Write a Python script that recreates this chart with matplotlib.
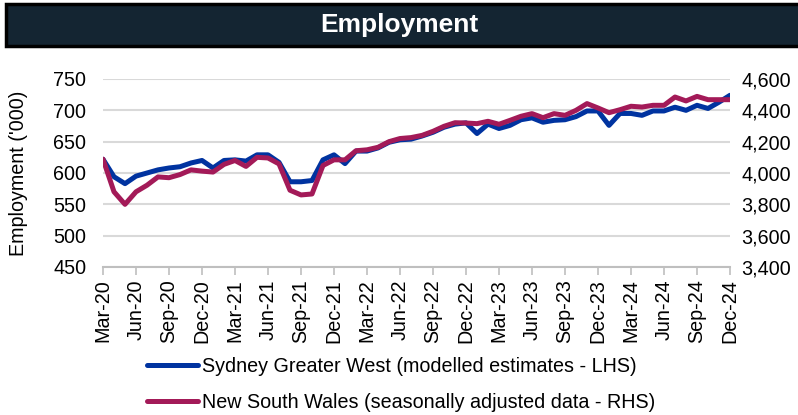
import matplotlib
matplotlib.use("Agg")
import matplotlib.pyplot as plt
from matplotlib.patches import Rectangle
from matplotlib.ticker import FuncFormatter, MultipleLocator

plt.rcParams['font.family'] = ['Liberation Sans', 'DejaVu Sans']

months = ["Mar-20", "Apr-20", "May-20", "Jun-20", "Jul-20", "Aug-20", "Sep-20", "Oct-20", "Nov-20", "Dec-20",
          "Jan-21", "Feb-21", "Mar-21", "Apr-21", "May-21", "Jun-21", "Jul-21", "Aug-21", "Sep-21", "Oct-21",
          "Nov-21", "Dec-21", "Jan-22", "Feb-22", "Mar-22", "Apr-22", "May-22", "Jun-22", "Jul-22", "Aug-22",
          "Sep-22", "Oct-22", "Nov-22", "Dec-22", "Jan-23", "Feb-23", "Mar-23", "Apr-23", "May-23", "Jun-23",
          "Jul-23", "Aug-23", "Sep-23", "Oct-23", "Nov-23", "Dec-23", "Jan-24", "Feb-24", "Mar-24", "Apr-24",
          "May-24", "Jun-24", "Jul-24", "Aug-24", "Sep-24", "Oct-24", "Nov-24", "Dec-24"]

sydney_gw = [622, 594, 583, 595, 600, 605, 608, 610, 616, 620,
             608, 620, 621, 619, 629, 629, 617, 586, 586, 588,
             621, 629, 615, 635, 635, 640, 649, 653, 654, 659,
             665, 673, 678, 680, 663, 678, 671, 676, 685, 688,
             681, 684, 685, 690, 699, 699, 676, 695, 695, 692,
             699, 699, 705, 700, 708, 703, 713, 724]

nsw = [4088, 3880, 3800, 3880, 3922, 3975, 3970, 3990, 4020, 4012,
       4006, 4055, 4080, 4042, 4100, 4096, 4058, 3890, 3860, 3866,
       4048, 4084, 4084, 4142, 4148, 4164, 4200, 4220, 4226, 4240,
       4266, 4298, 4321, 4319, 4315, 4330, 4311, 4336, 4362, 4379,
       4353, 4379, 4368, 4400, 4443, 4415, 4385, 4404, 4426, 4421,
       4432, 4432, 4485, 4460, 4489, 4468, 4468, 4468]

tick_labels = ["Mar-20", "Jun-20", "Sep-20", "Dec-20", "Mar-21", "Jun-21", "Sep-21", "Dec-21",
               "Mar-22", "Jun-22", "Sep-22", "Dec-22", "Mar-23", "Jun-23", "Sep-23", "Dec-23",
               "Mar-24", "Jun-24", "Sep-24", "Dec-24"]

title = "Employment"
label_sgw = "Sydney Greater West (modelled estimates - LHS)"
label_nsw = "New South Wales (seasonally adjusted data - RHS)"

BLUE = "#0033a0"
RED = "#a31a58"
GRID = "#d9d9d9"
FS = 14.2

fig = plt.figure(figsize=(7.98, 4.15), dpi=100)

# title bar
fig.patches.append(Rectangle((6/798, 1-46/415), 1-6/798+0.01, 42/415, transform=fig.transFigure,
                             facecolor="#142532", edgecolor="black", linewidth=2.5, zorder=0))
fig.text(0.5, 1-25/415, title, ha="center", va="center", color="white", fontsize=19, fontweight="bold")

ax = fig.add_axes([103/798, 1-267/415, (730-103)/798, (267-79)/415])
ax2 = ax.twinx()

x = list(range(len(months)))
ax.plot(x, sydney_gw, color=BLUE, lw=3.6, solid_joinstyle="round", solid_capstyle="round", label=label_sgw)
ax2.plot(x, nsw, color=RED, lw=3.6, solid_joinstyle="round", solid_capstyle="round", label=label_nsw)

ax.set_ylim(450, 750)
ax.yaxis.set_major_locator(MultipleLocator(50))
ax2.set_ylim(3400, 4600)
ax2.yaxis.set_major_locator(MultipleLocator(200))
ax2.yaxis.set_major_formatter(FuncFormatter(lambda v, p: f"{int(v):,}"))
ax.set_xlim(0, len(months) - 1)

tick_pos = [months.index(t) for t in tick_labels]
ax.set_xticks(tick_pos)
ax.set_xticklabels(tick_labels, rotation=90, fontsize=FS)

ax.grid(axis="y", color=GRID, lw=1.5)
ax.set_axisbelow(True)
for a in (ax, ax2):
    for s in ("top", "left", "right", "bottom"):
        a.spines[s].set_visible(False)
ax.spines["bottom"].set_visible(True)
ax.spines["bottom"].set_color("#bfbfbf")
ax.spines["bottom"].set_linewidth(1.5)
ax.tick_params(axis="x", length=6, width=1.2, color="#bfbfbf", pad=3, labelsize=FS)
ax.tick_params(axis="y", length=0, pad=12, labelsize=FS)
ax2.tick_params(axis="y", length=0, pad=8, labelsize=FS)

ax.set_ylabel("Employment ('000)", fontsize=FS, labelpad=18)

h1, l1 = ax.get_legend_handles_labels()
h2, l2 = ax2.get_legend_handles_labels()
fig.legend(h1 + h2, l1 + l2, loc="upper left", bbox_to_anchor=(147/798, 1-357/415),
           frameon=False, fontsize=FS, handlelength=2.6, handletextpad=0.2, labelspacing=0.85,
           borderpad=0, borderaxespad=0)

fig.savefig("out.png", dpi=100)
